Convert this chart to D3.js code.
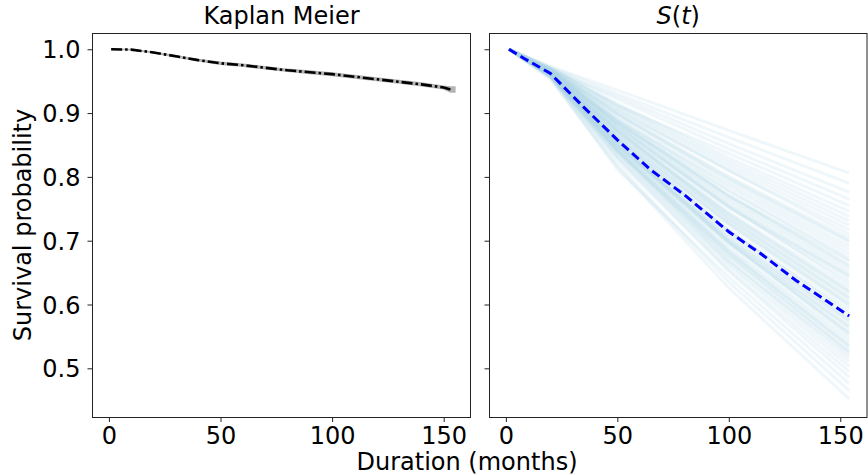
<!DOCTYPE html>
<html><head><meta charset="utf-8">
<script src="https://cdn.jsdelivr.net/npm/d3@7"></script>
<style>
body{margin:0;background:#fff}
svg{display:block}
text{font-family:"DejaVu Sans",sans-serif;fill:#000}
</style>
</head><body>
<svg id="c" width="868" height="475"></svg>
<script>
// ---------- data ----------
const xTicks = [0, 50, 100, 150];
const yTicks = [0.5, 0.6, 0.7, 0.8, 0.9, 1.0];

// Kaplan Meier estimate and its (narrow) confidence band
const kmTime  = [1, 10, 20, 30, 40, 50, 60, 70, 80, 90, 100, 110, 120, 130, 140, 150, 153, 155];
const kmSurv  = [1.0, 0.9995, 0.995, 0.989, 0.983, 0.978, 0.975, 0.971, 0.967, 0.964, 0.961, 0.957, 0.953, 0.949, 0.945, 0.940, 0.937, 0.937];
const kmLower = [1.0, 0.9993, 0.9945, 0.988, 0.982, 0.9765, 0.9735, 0.9695, 0.9655, 0.962, 0.959, 0.955, 0.951, 0.947, 0.943, 0.938, 0.933, 0.933];
const kmUpper = [1.0, 0.9997, 0.9955, 0.990, 0.984, 0.9795, 0.9765, 0.9725, 0.9685, 0.966, 0.963, 0.959, 0.955, 0.951, 0.947, 0.942, 0.941, 0.941];

// posterior mean S(t)
const meanTime = [1.4, 8, 20, 35, 50, 65, 80, 100, 115, 130, 154];
const meanSurv = [1.0, 0.986, 0.962, 0.909, 0.858, 0.811, 0.772, 0.714, 0.678, 0.638, 0.582];

// posterior sample curves, values at sampleTime
const sampleTime = [1.4, 20, 50, 100, 154];
const s0   = 1.0;
const s20  = [0.953,0.956,0.956,0.957,0.957,0.958,0.958,0.958,0.959,0.959,0.956,0.960,0.960,0.960,0.960,0.961,0.961,0.961,0.961,0.962,0.965,0.962,0.962,0.963,0.963,0.963,0.963,0.964,0.964,0.964,0.960,0.965,0.965,0.965,0.965,0.966,0.966,0.966,0.967,0.967,0.967,0.967,0.968,0.968,0.968,0.965,0.969,0.969,0.970,0.970,0.970,0.971,0.968,0.972,0.973,0.960,0.961,0.961,0.963,0.964,0.969,0.966,0.968,0.959,0.961,0.963,0.966];
const s50  = [0.816,0.820,0.812,0.827,0.830,0.832,0.835,0.842,0.838,0.840,0.841,0.843,0.845,0.846,0.848,0.850,0.851,0.853,0.849,0.856,0.858,0.859,0.861,0.863,0.865,0.866,0.874,0.870,0.872,0.873,0.875,0.877,0.879,0.880,0.882,0.884,0.886,0.888,0.890,0.892,0.889,0.896,0.898,0.900,0.903,0.905,0.907,0.910,0.912,0.915,0.912,0.922,0.926,0.930,0.936,0.843,0.849,0.856,0.860,0.871,0.880,0.885,0.899,0.839,0.853,0.868,0.885];
const s100 = [0.626,0.635,0.643,0.652,0.655,0.661,0.665,0.670,0.668,0.676,0.680,0.683,0.686,0.690,0.698,0.696,0.700,0.703,0.707,0.710,0.714,0.717,0.715,0.724,0.728,0.731,0.735,0.738,0.742,0.745,0.754,0.752,0.756,0.759,0.763,0.766,0.771,0.770,0.779,0.784,0.788,0.792,0.796,0.801,0.810,0.810,0.815,0.820,0.825,0.830,0.837,0.844,0.852,0.862,0.873,0.682,0.696,0.702,0.727,0.741,0.752,0.777,0.798,0.676,0.698,0.734,0.770];
const s154 = [0.452,0.465,0.476,0.486,0.495,0.503,0.510,0.516,0.521,0.526,0.531,0.536,0.541,0.546,0.551,0.556,0.561,0.566,0.571,0.576,0.581,0.586,0.591,0.596,0.601,0.606,0.611,0.616,0.621,0.626,0.631,0.636,0.641,0.646,0.651,0.656,0.662,0.668,0.674,0.680,0.686,0.692,0.698,0.704,0.710,0.717,0.724,0.731,0.738,0.746,0.755,0.765,0.776,0.790,0.806,0.535,0.555,0.575,0.600,0.620,0.645,0.670,0.700,0.525,0.565,0.610,0.660];

// ---------- layout ----------
const svg = d3.select("#c");
const plotTop = 33, plotBottom = 417;
const panels = [{x0: 92.5, x1: 470.5}, {x0: 489.5, x1: 867}];
const y = d3.scaleLinear().domain([0.4237, 1.0255]).range([plotBottom, plotTop]);
const FS = 24;

panels.forEach(p => {
  p.x = d3.scaleLinear().domain([-7.35, 162]).range([p.x0, p.x1]);
});

function drawAxes(p, showLabels) {
  const g = svg.append("g");
  const xa = d3.axisBottom(p.x).tickValues(xTicks).tickSize(5).tickPadding(5).tickFormat(d3.format("d"));
  const gx = g.append("g").attr("transform", `translate(0,${plotBottom})`).call(xa);
  gx.select(".domain").remove();
  gx.selectAll("line").attr("stroke", "#222").attr("stroke-width", 1);
  gx.selectAll("text").attr("font-size", FS).attr("font-family", "DejaVu Sans").attr("fill", "#000").attr("dy", "0.72em");
  const ya = d3.axisLeft(y).tickValues(yTicks).tickSize(5).tickPadding(7).tickFormat(d3.format(".1f"));
  const gy = g.append("g").attr("transform", `translate(${p.x0},0)`).call(ya);
  gy.select(".domain").remove();
  gy.selectAll("line").attr("stroke", "#222").attr("stroke-width", 1);
  if (showLabels) {
    gy.selectAll("text").attr("font-size", FS).attr("font-family", "DejaVu Sans").attr("fill", "#000").attr("dy", "0.36em");
  } else {
    gy.selectAll("text").remove();
  }
  svg.append("rect").attr("x", p.x0).attr("y", plotTop + 0.5).attr("width", p.x1 - p.x0).attr("height", plotBottom - plotTop)
    .attr("fill", "none").attr("stroke", "#222").attr("stroke-width", 1);
}

// ---------- left panel: Kaplan Meier ----------
const L = panels[0];
const kmRows = kmTime.map((t, i) => ({t, s: kmSurv[i], lo: kmLower[i], hi: kmUpper[i]}));
svg.append("path").datum(kmRows)
  .attr("d", d3.area().x(d => L.x(d.t)).y0(d => y(d.lo)).y1(d => y(d.hi)))
  .attr("fill", "#b4b4b4").attr("stroke", "#b4b4b4").attr("stroke-width", 1.5);
svg.append("path").datum(kmRows.slice(0, kmRows.length - 1))
  .attr("d", d3.line().x(d => L.x(d.t)).y(d => y(d.s)))
  .attr("fill", "none").attr("stroke", "#000").attr("stroke-width", 2.6)
  .attr("stroke-dasharray", "11,3,2.5,3");

// ---------- right panel: S(t) ----------
const R = panels[1];
const gs = svg.append("g");
s154.forEach((e, i) => {
  const vals = [s0, s20[i], s50[i], s100[i], s154[i]];
  gs.append("path").datum(sampleTime.map((t, k) => ({t, s: vals[k]})))
    .attr("d", d3.line().x(d => R.x(d.t)).y(d => y(d.s)))
    .attr("fill", "none").attr("stroke", "#add8e6").attr("stroke-opacity", 0.2).attr("stroke-width", 3);
});
svg.append("path").datum(meanTime.map((t, i) => ({t, s: meanSurv[i]})))
  .attr("d", d3.line().x(d => R.x(d.t)).y(d => y(d.s)))
  .attr("fill", "none").attr("stroke", "#0000ff").attr("stroke-width", 3)
  .attr("stroke-dasharray", "9,4.5");

drawAxes(L, true);
drawAxes(R, false);

// ---------- titles & labels ----------
svg.append("text").attr("x", (L.x0 + L.x1) / 2).attr("y", 24).attr("text-anchor", "middle")
  .attr("font-size", FS).text("Kaplan Meier");
const st = svg.append("text").attr("x", (R.x0 + R.x1) / 2).attr("y", 24).attr("text-anchor", "middle")
  .attr("font-size", FS);
st.append("tspan").attr("font-style", "italic").text("S");
st.append("tspan").text("(");
st.append("tspan").attr("font-style", "italic").text("t");
st.append("tspan").text(")");

svg.append("text").attr("x", 467).attr("y", 470).attr("text-anchor", "middle")
  .attr("font-size", FS).text("Duration (months)");
svg.append("text").attr("transform", `translate(31,${(plotTop + plotBottom) / 2}) rotate(-90)`)
  .attr("text-anchor", "middle").attr("font-size", FS).text("Survival probability");
</script>
</body></html>
